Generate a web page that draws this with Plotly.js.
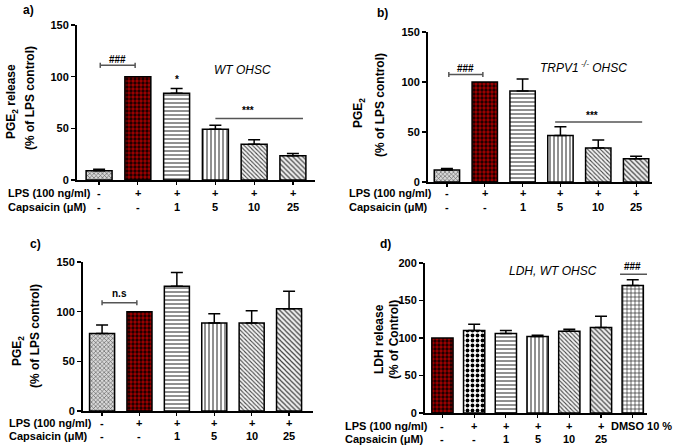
<!DOCTYPE html>
<html>
<head>
<meta charset="utf-8">
<script src="https://cdn.plot.ly/plotly-3.0.1.min.js"></script>
<style>
  html, body { margin: 0; padding: 0; background: #fff; }
  #chart { width: 675px; height: 448px; }
</style>
</head>
<body>
<div id="chart"></div>
<script>
// ---------- data ----------
const lpsRow = ["-", "+", "+", "+", "+", "+"];
const capsRow = ["-", "-", "1", "5", "10", "25"];
const lpsRowD = ["-", "+", "+", "+", "+", "+", "DMSO 10 %"];
const capsRowD = ["-", "-", "1", "5", "10", "25", ""];

// a) WT OHSC
const aMeans = [9, 100, 84, 49, 34.5, 23.5];
const aErrs = [1.5, 0, 4.5, 4, 4.5, 2.2];
// b) TRPV1-/- OHSC
const bMeans = [12, 100, 91, 46.5, 34, 23.3];
const bErrs = [1.5, 0, 12, 8.8, 8, 2.4];
// c) depleted microglia
const cMeans = [78, 100, 125.5, 88.5, 88.5, 103];
const cErrs = [8.5, 0, 14, 9.5, 12.5, 17.5];
// d) LDH release
const dMeans = [100, 110, 106, 102, 109, 114, 170];
const dErrs = [0, 8.5, 4, 1.8, 2.8, 15, 7.7];

// ---------- helpers ----------
const W = 675, H = 448;
const px = v => v / W;
const py = v => 1 - v / H;
const FONT = "Liberation Sans, Arial, sans-serif";

// fill patterns (GraphPad style)
const P = {
  grey:  { shape: "x", bg: "#d8d8d8", fg: "#555", size: 3, sol: 0.35 },
  red:   { shape: ".", bg: "#a40000", fg: "#200000", size: 4, sol: 0.55 },
  check: { shape: ".", bg: "#fff", fg: "#000", size: 5, sol: 0.45 },
  hor:   { shape: "-", bg: "#fff", fg: "#222", size: 4, sol: 0.25 },
  ver:   { shape: "|", bg: "#fff", fg: "#222", size: 4, sol: 0.25 },
  diag1: { shape: "\\", bg: "#f4f4f4", fg: "#444", size: 3, sol: 0.35 },
  diag2: { shape: "\\", bg: "#f4f4f4", fg: "#444", size: 3.5, sol: 0.35 },
  grid:  { shape: "+", bg: "#fff", fg: "#222", size: 4, sol: 0.3 }
};
const pat6 = [P.grey, P.red, P.hor, P.ver, P.diag1, P.diag2];
const pat7 = [P.red, P.check, P.hor, P.ver, P.diag1, P.diag2, P.grid];

const panels = [
  { ax: "", means: aMeans, errs: aErrs, lps: lpsRow, caps: capsRow, pats: pat6,
    box: [77, 315, 25, 180], xr: [-0.57, 5.57], ymax: 150,
    rows: [6, 193, 207], letter: ["a)", 28, 10],
    titles: [["PGE<sub>2</sub> release", 12, 102], ["(% of LPS control)", 30, 98]],
    label: ["<i>WT OHSC</i>", 3.7, 106] },
  { ax: "2", means: bMeans, errs: bErrs, lps: lpsRow, caps: capsRow, pats: pat6,
    box: [428, 652, 32, 182], xr: [-0.5, 5.42], ymax: 150,
    rows: [347, 193, 207], letter: ["b)", 382, 13],
    titles: [["PGE<sub>2</sub>", 359, 113], ["(% of LPS control)", 380, 105]],
    label: ["<i>TRPV1<sup> -/-</sup> OHSC</i>", 3.6, 115] },
  { ax: "3", means: cMeans, errs: cErrs, lps: lpsRow, caps: capsRow, pats: pat6,
    box: [83, 313, 262, 411], xr: [-0.51, 5.64], ymax: 150,
    rows: [7, 423, 436], letter: ["c)", 35, 244],
    titles: [["PGE<sub>2</sub>", 18, 351], ["(% of LPS control)", 35, 336]],
    label: ["<i>Depleted Microglia, WT OHSC</i>", 3.1, 152] },
  { ax: "4", means: dMeans, errs: dErrs, lps: lpsRowD, caps: capsRowD, pats: pat7,
    box: [425, 647, 263, 413], xr: [-0.55, 6.45], ymax: 200,
    rows: [343, 426, 439], letter: ["d)", 385, 244],
    titles: [["LDH release", 379, 339], ["(% of Control)", 394, 340]],
    label: ["<i>LDH, WT OHSC</i>", 3.5, 190] }
];

const traces = [];
const layout = {
  width: W, height: H,
  margin: { l: 0, r: 0, t: 0, b: 0 },
  paper_bgcolor: "#fff", plot_bgcolor: "#fff",
  showlegend: false,
  barmode: "overlay",
  font: { family: FONT, color: "#000" },
  annotations: [],
  shapes: []
};

function ann(o) {
  layout.annotations.push(Object.assign({
    showarrow: false, xanchor: "center", yanchor: "middle",
    font: { family: FONT, size: 11, color: "#000", weight: "bold" }
  }, o));
}

panels.forEach(p => {
  const xa = "x" + p.ax, ya = "y" + p.ax;
  const idx = p.means.map((_, i) => i);

  // one trace per bar so each gets its own fill pattern
  p.means.forEach((m, i) => {
    const s = p.pats[i];
    traces.push({
      type: "bar", x: [i], y: [m], xaxis: xa, yaxis: ya,
      width: 0.67, opacity: 1,
      marker: {
        color: s.bg,
        line: { color: "#000", width: 1.5 },
        pattern: { shape: s.shape, fillmode: "replace", bgcolor: s.bg, fgcolor: s.fg,
          fgopacity: 1, size: s.size, solidity: s.sol }
      },
      error_y: {
        type: "data", symmetric: false, array: [p.errs[i]], arrayminus: [0],
        visible: p.errs[i] > 0, color: "#000", thickness: 1.5, width: 6
      },
      hoverinfo: "skip"
    });
  });

  const [l, r, t, b] = p.box;
  layout["xaxis" + p.ax] = {
    domain: [px(l), px(r)], anchor: ya, range: p.xr,
    showline: true, linecolor: "#000", linewidth: 2,
    ticks: "outside", ticklen: 3, tickwidth: 1.2, tickcolor: "#000",
    tickvals: idx, showticklabels: false, showgrid: false, zeroline: false, fixedrange: true
  };
  layout["yaxis" + p.ax] = {
    domain: [py(b), py(t)], anchor: xa, range: [0, p.ymax], dtick: 50,
    showline: true, linecolor: "#000", linewidth: 2,
    ticks: "outside", ticklen: 4, tickwidth: 1.5, tickcolor: "#000",
    tickfont: { family: FONT, size: 11, weight: "bold" },
    showgrid: false, zeroline: false, fixedrange: true
  };

  // row labels under the x axis
  ann({ xref: "paper", yref: "paper", x: px(p.rows[0]), y: py(p.rows[1]), xanchor: "left", text: "LPS (100 ng/ml)" });
  ann({ xref: "paper", yref: "paper", x: px(p.rows[0]), y: py(p.rows[2]), xanchor: "left", text: "Capsaicin (μM)" });
  p.lps.forEach((s, i) => ann({ xref: xa, yref: "paper", x: i, y: py(p.rows[1]), text: s,
    xshift: s.length > 2 ? 9 : 0 }));
  p.caps.forEach((s, i) => { if (s) ann({ xref: xa, yref: "paper", x: i, y: py(p.rows[2]), text: s }); });

  // y titles
  p.titles.forEach(tt => ann({ xref: "paper", yref: "paper", x: px(tt[1]), y: py(tt[2]),
    text: tt[0], textangle: -90, font: { family: FONT, size: 12, weight: "bold", color: "#000" } }));

  // panel letter
  ann({ xref: "paper", yref: "paper", x: px(p.letter[1]), y: py(p.letter[2]), text: p.letter[0],
    font: { family: FONT, size: 12, weight: "bold", color: "#000" } });

  // italic panel label
  ann({ xref: xa, yref: ya, x: p.label[1], y: p.label[2], text: p.label[0],
    font: { family: FONT, size: 12, color: "#000" } });
});

// significance marks
function line(ax, x0, x1, y, caps) {
  const s = { type: "line", xref: "x" + ax, yref: "y" + ax, line: { color: "#555", width: 1.5 } };
  layout.shapes.push(Object.assign({}, s, { x0: x0, x1: x1, y0: y, y1: y }));
  if (caps) {
    layout.shapes.push(Object.assign({}, s, { x0: x0, x1: x0, y0: y - caps, y1: y + caps }));
    layout.shapes.push(Object.assign({}, s, { x0: x1, x1: x1, y0: y - caps, y1: y + caps }));
  }
}
function mark(ax, x, y, text) {
  ann({ xref: "x" + ax, yref: "y" + ax, x: x, y: y, text: text,
    font: { family: FONT, size: 10, weight: "bold", color: "#000" } });
}

line("", 0.03, 0.93, 111, 2.5); mark("", 0.48, 117, "###");
mark("", 2, 97, "*");
line("", 3, 5.26, 59.5); mark("", 3.84, 67, "***");

line("2", 0.05, 0.95, 107.5, 2.5); mark("2", 0.5, 113, "###");
line("2", 2.86, 5.16, 60); mark("2", 3.84, 66, "***");

line("3", 0, 0.93, 109, 2.5); mark("3", 0.46, 118, "n.s");

line("4", 5.6, 6.45, 185); mark("4", 6.0, 195, "###");

Plotly.newPlot("chart", traces, layout, { staticPlot: true, displayModeBar: false });
</script>
</body>
</html>
